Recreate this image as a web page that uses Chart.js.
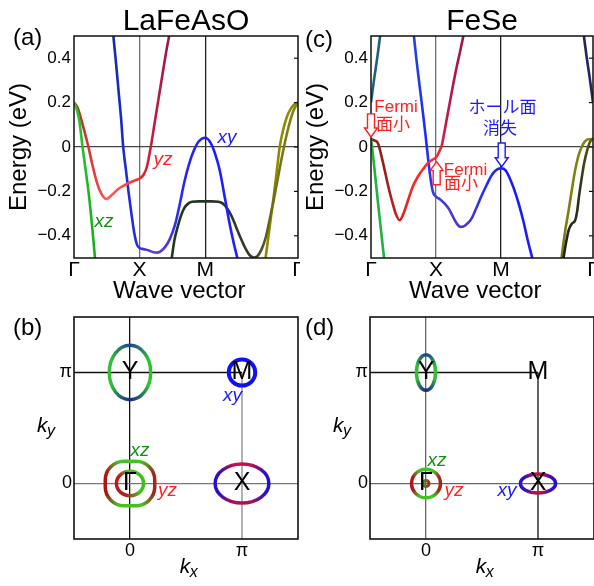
<!DOCTYPE html>
<html>
<head>
<meta charset="utf-8">
<script src="https://cdn.jsdelivr.net/npm/chart.js@4.4.1/dist/chart.umd.min.js"></script>
<style>
  html, body { margin: 0; padding: 0; background: #fff; }
  body { width: 594px; height: 586px; position: relative; overflow: hidden; }
  canvas { position: absolute; }
</style>
</head>
<body>
<canvas id="bandA" width="300" height="305" style="left:0;top:0"></canvas>
<canvas id="bandC" width="297" height="305" style="left:297px;top:0"></canvas>
<canvas id="fsB" width="300" height="286" style="left:0;top:300px"></canvas>
<canvas id="fsD" width="297" height="286" style="left:297px;top:300px"></canvas>
<script>
// k path Γ-X-M-Γ : Γ=0, X=1, M=2, Γ=2+√2
const kTicks = [0, 1, 2, 3.414];
const kLabels = ['Γ', 'X', 'M', 'Γ'];
const eTicks = [-0.4, -0.2, 0, 0.2, 0.4];

// LaFeAsO bands, [k, E (eV)]
const aXz = [[0,0.2],[0.04,0.17],[0.08,0.12],[0.13,0],[0.18,-0.11],[0.23,-0.224],[0.28,-0.37],[0.32,-0.5]];
const aYz = [[0,0.2],[0.05,0.18],[0.1,0.135],[0.16,0.07],[0.22,0],[0.28,-0.08],[0.34,-0.15],[0.4,-0.2],
  [0.49,-0.234],[0.58,-0.215],[0.67,-0.19],[0.75,-0.175],[0.85,-0.16],[0.95,-0.148],[1.0,-0.142],
  [1.06,-0.125],[1.11,-0.09],[1.17,0],[1.23,0.11],[1.29,0.22],[1.35,0.33],[1.4,0.42],[1.45,0.5]];
const aXy = [[0.6,0.5],[0.64,0.38],[0.68,0.25],[0.72,0.12],[0.75,0],[0.79,-0.1],[0.83,-0.2],[0.88,-0.31],
  [0.92,-0.39],[0.96,-0.44],[1.0,-0.455],[1.06,-0.46],[1.13,-0.465],[1.2,-0.473],[1.26,-0.476],
  [1.32,-0.47],[1.39,-0.45],[1.46,-0.415],[1.54,-0.35],[1.61,-0.26],[1.68,-0.16],[1.75,-0.08],
  [1.82,-0.02],[1.9,0.025],[2.0,0.042],[2.08,0.02],[2.15,-0.03],[2.22,-0.104],[2.3,-0.23],
  [2.37,-0.344],[2.44,-0.44],[2.49,-0.5]];
const aDark = [[1.49,-0.5],[1.53,-0.42],[1.58,-0.36],[1.63,-0.31],[1.68,-0.275],[1.74,-0.255],[1.8,-0.247],
  [1.9,-0.245],[2.0,-0.245],[2.1,-0.245],[2.2,-0.247],[2.27,-0.255],[2.33,-0.275],[2.4,-0.31],
  [2.47,-0.36],[2.54,-0.41],[2.61,-0.455],[2.67,-0.485],[2.74,-0.498],[2.8,-0.49],[2.86,-0.46],
  [2.92,-0.41],[2.98,-0.33],[3.05,-0.23],[3.12,-0.12],[3.2,0],[3.27,0.09],[3.34,0.16],[3.414,0.2]];
const aOlive = [[2.92,-0.5],[2.96,-0.41],[3.0,-0.32],[3.04,-0.23],[3.09,-0.11],[3.135,0],[3.19,0.08],
  [3.25,0.14],[3.31,0.175],[3.36,0.193],[3.414,0.2]];

// FeSe bands
const cTeal = [[0,0.2],[0.05,0.31],[0.1,0.41],[0.14,0.5]];
const cXz = [[0,0.036],[0.02,-0.01],[0.05,-0.09],[0.1,-0.23],[0.15,-0.365],[0.2,-0.5]];
const cYz = [[0,0.036],[0.05,0.03],[0.11,0.015],[0.16,-0.04],[0.21,-0.104],[0.26,-0.17],[0.32,-0.24],
  [0.38,-0.3],[0.44,-0.33],[0.5,-0.3],[0.57,-0.24],[0.64,-0.18],[0.72,-0.134],[0.8,-0.1],[0.875,-0.073],
  [0.94,-0.058],[1.0,-0.047],[1.05,-0.02],[1.09,0.009],[1.13,0.07],[1.18,0.15],[1.25,0.26],[1.31,0.35],
  [1.37,0.43],[1.42,0.5]];
const cXy = [[0.66,0.5],[0.7,0.39],[0.75,0.27],[0.8,0.15],[0.84,0.05],[0.875,-0.044],[0.91,-0.13],
  [0.95,-0.2],[1.0,-0.224],[1.06,-0.235],[1.13,-0.254],[1.2,-0.28],[1.26,-0.314],[1.32,-0.345],
  [1.38,-0.36],[1.44,-0.355],[1.5,-0.34],[1.55,-0.32],[1.62,-0.275],[1.7,-0.22],[1.78,-0.17],
  [1.85,-0.13],[1.92,-0.105],[2.0,-0.096],[2.07,-0.105],[2.14,-0.145],[2.2,-0.19],[2.27,-0.254],
  [2.34,-0.33],[2.41,-0.42],[2.48,-0.5]];
const cOlive = [[2.93,-0.5],[2.98,-0.39],[3.04,-0.284],[3.09,-0.19],[3.14,-0.104],[3.19,-0.04],
  [3.24,0],[3.29,0.025],[3.34,0.035],[3.414,0.036]];
const cDark = [[2.96,-0.5],[3.0,-0.43],[3.04,-0.374],[3.09,-0.345],[3.14,-0.33],[3.17,-0.29],[3.2,-0.22],
  [3.24,-0.14],[3.28,-0.07],[3.33,-0.01],[3.37,0.024],[3.414,0.036]];
const cNavy = [[3.274,0.5],[3.314,0.41],[3.364,0.31],[3.414,0.2]];

// Fermi surfaces, k in units of π
const fsTicks = [0, 1];
const fsTickLabels = ['0', 'π'];
const bzEdgeH = [[-0.5,1],[1,1]];
const bzEdgeV = [[1,-0.5],[1,1]];
const fsPoints = [['Y',0,1],['M',1,1],['Γ',0,0],['X',1,0]];
// [name, kx, ky, half-width, half-height]
const bPockets = [['Y',0,1,0.185,0.245],['M',1,1,0.118,0.118],['Gout',0,0,0.221,0.2],
  ['Gin',0,0,0.121,0.11],['X',1,0,0.24,0.176]];
const dPockets = [['Y',0,1,0.085,0.16],['G',0,0,0.129,0.129],['g',0,0,0.027,0.027],['X',1,0,0.157,0.085]];

const FONT = '"Liberation Sans", Arial, "Noto Sans CJK JP", sans-serif';
const RED = '#ff2020', BLUE = '#1a1aff', GREEN = '#159015';

// conic colour stops, clockwise from +kx
const ringGR = [[0,'#a02818'],[0.07,'#a02818'],[0.17,'#44c222'],[0.33,'#44c222'],[0.43,'#b01414'],
  [0.57,'#b01414'],[0.67,'#44c222'],[0.83,'#44c222'],[0.93,'#a02818'],[1,'#a02818']];
const pocketStyle = {
  Y: {stops: [[0,'#30c030'],[0.1,'#30c030'],[0.25,'#1c2a8c'],[0.4,'#30c030'],[0.6,'#30c030'],[0.75,'#1c4690'],[0.9,'#30c030'],[1,'#30c030']]},
  M: {stops: [[0,'#1010f0'],[1,'#1010f0']], width: 4},
  Gout: {square: 0.85, stops: ringGR},
  Gin: {stops: [[0,'#40c020'],[0.12,'#40c020'],[0.3,'#b02020'],[0.6,'#c01818'],[0.72,'#40c020'],[1,'#40c020']]},
  G: {stops: ringGR},
  g: {stops: [[0,'#b02020'],[0.5,'#40a020'],[1,'#b02020']], width: 3},
  X: {stops: [[0,'#2010d0'],[0.06,'#2a10c8'],[0.18,'#b01050'],[0.32,'#b01050'],[0.44,'#2a10c8'],[0.56,'#2a10c8'],
    [0.68,'#c01048'],[0.82,'#c01048'],[0.94,'#2a10c8'],[1,'#2010d0']]}
};

function kGradient(stops) {
  return (ctx) => {
    const chart = ctx.chart, x = chart.scales.x;
    if (!chart.chartArea || !x) return stops[0][1];
    const k0 = stops[0][0], k1 = stops[stops.length - 1][0];
    const g = chart.ctx.createLinearGradient(x.getPixelForValue(k0), 0, x.getPixelForValue(k1), 0);
    stops.forEach(([k, c]) => g.addColorStop((k - k0) / (k1 - k0), c));
    return g;
  };
}

function band(points, color) {
  return {
    data: points.map(([k, e]) => ({x: k, y: e})),
    showLine: true, pointRadius: 0, borderWidth: 2.6, clip: 0,
    cubicInterpolationMode: 'monotone',
    borderColor: typeof color === 'string' ? color : kGradient(color)
  };
}

function edge(points, color) {
  return {data: points.map(([x, y]) => ({x, y})), showLine: true, pointRadius: 0, borderWidth: 1.3, borderColor: color};
}

function drawArrow(ctx, x, y0, y1, color) {
  const d = y1 > y0 ? 1 : -1, hw = 3.5, hh = 6.5, hl = 9;
  ctx.beginPath();
  ctx.moveTo(x - hw, y0);
  ctx.lineTo(x - hw, y1 - d * hl);
  ctx.lineTo(x - hh, y1 - d * hl);
  ctx.lineTo(x, y1);
  ctx.lineTo(x + hh, y1 - d * hl);
  ctx.lineTo(x + hw, y1 - d * hl);
  ctx.lineTo(x + hw, y0);
  ctx.closePath();
  ctx.fillStyle = '#fff';
  ctx.fill();
  ctx.lineWidth = 1.4;
  ctx.strokeStyle = color;
  ctx.stroke();
}

function drawPocket(ctx, chart, p) {
  const {x, y} = chart.scales;
  const [name, kx, ky, rx, ry] = p;
  const st = pocketStyle[name];
  const cx = x.getPixelForValue(kx), cy = y.getPixelForValue(ky);
  const w = Math.abs(x.getPixelForValue(kx + rx) - cx);
  const h = Math.abs(y.getPixelForValue(ky + ry) - cy);
  const g = ctx.createConicGradient(0, cx, cy);
  st.stops.forEach(([t, c]) => g.addColorStop(t, c));
  ctx.beginPath();
  if (st.square) ctx.roundRect(cx - w, cy - h, 2 * w, 2 * h, Math.min(w, h) * st.square);
  else ctx.ellipse(cx, cy, w, h, 0, 0, 2 * Math.PI);
  ctx.strokeStyle = g;
  ctx.lineWidth = st.width || 3.5;
  ctx.stroke();
}

function drawSub(ctx, base, sub, x0, baseline, centered) {
  ctx.textAlign = 'left';
  ctx.textBaseline = 'alphabetic';
  ctx.font = 'italic 21px ' + FONT;
  const w1 = ctx.measureText(base).width;
  ctx.font = 'italic 16px ' + FONT;
  const w2 = ctx.measureText(sub).width;
  if (centered) x0 -= (w1 + w2) / 2;
  ctx.font = 'italic 21px ' + FONT;
  ctx.fillText(base, x0, baseline);
  ctx.font = 'italic 16px ' + FONT;
  ctx.fillText(sub, x0 + w1 - 0.5, baseline + 4);
}

const decor = {
  id: 'decor',
  afterDatasetsDraw(chart, args, opts) {
    const ctx = chart.ctx;
    const {left, right, top, bottom} = chart.chartArea;
    const {x, y} = chart.scales;
    ctx.save();
    (opts.pockets || []).forEach(p => drawPocket(ctx, chart, p));
    ctx.lineWidth = opts.frameWidth || 1.5;
    ctx.strokeStyle = '#111';
    ctx.strokeRect(left, top, right - left, bottom - top);
    if (opts.rightTicks) {
      ctx.lineWidth = 1.2;
      opts.rightTicks.forEach(v => {
        const py = y.getPixelForValue(v);
        ctx.beginPath(); ctx.moveTo(right - 4, py); ctx.lineTo(right, py); ctx.stroke();
      });
    }
    (opts.arrows || []).forEach(a =>
      drawArrow(ctx, x.getPixelForValue(a.k), y.getPixelForValue(a.from), y.getPixelForValue(a.to), a.color));
    (opts.notes || []).forEach(n => {
      ctx.font = (n.italic ? 'italic ' : '') + (n.size || 17) + 'px ' + FONT;
      ctx.fillStyle = n.color || '#000';
      ctx.textAlign = 'center';
      ctx.textBaseline = 'middle';
      ctx.fillText(n.text, x.getPixelForValue(n.at[0]), y.getPixelForValue(n.at[1]));
    });
    if (opts.corner) {
      ctx.font = '24px ' + FONT;
      ctx.fillStyle = '#000';
      ctx.textAlign = 'left';
      ctx.textBaseline = 'middle';
      ctx.fillText(opts.corner[0], opts.corner[1], opts.corner[2]);
    }
    if (opts.kTitles) {
      ctx.fillStyle = '#000';
      drawSub(ctx, 'k', 'x', (left + right) / 2 + 3, bottom + 34, true);
      drawSub(ctx, 'k', 'y', left - 37, (top + bottom) / 2 + 4, false);
    }
    ctx.restore();
  }
};

const fmtE = v => v === 0 ? '0' : (v < 0 ? '\u2212' : '') + Math.abs(v).toFixed(1);

function bandChart(id, title, datasets, rightPad, xLine, decorOpts) {
  return new Chart(document.getElementById(id), {
    type: 'scatter',
    data: {datasets},
    plugins: [decor],
    options: {
      responsive: false, animation: false, events: [],
      layout: {padding: {left: 0, right: rightPad, top: 0, bottom: 0}},
      plugins: {
        legend: {display: false},
        tooltip: {enabled: false},
        title: {display: true, text: title, fullSize: false, color: '#000',
          font: {size: 30, weight: 'normal', lineHeight: 1}, padding: {top: 7, bottom: -1}},
        decor: decorOpts
      },
      scales: {
        x: {
          type: 'linear', min: 0, max: 3.414,
          afterBuildTicks: s => { s.ticks = kTicks.map(v => ({value: v})); },
          afterFit: s => { s.height = 47; s.paddingLeft = 0; s.paddingRight = 0; },
          ticks: {callback: (v, i) => kLabels[i], font: {size: 21}, padding: 0, autoSkip: false, maxRotation: 0, color: '#000'},
          grid: {drawTicks: false, lineWidth: 1.3,
            color: c => c.tick && c.tick.value === 1 ? xLine[0] : (c.tick && c.tick.value === 2 ? xLine[1] : 'rgba(0,0,0,0)')},
          border: {display: false},
          title: {display: true, text: 'Wave vector  ', color: '#000', font: {size: 24, lineHeight: 1}, padding: {top: 0, bottom: 1.5}}
        },
        y: {
          min: -0.5, max: 0.5,
          afterBuildTicks: s => { s.ticks = eTicks.map(v => ({value: v})); },
          afterFit: s => { s.width = 74; },
          ticks: {callback: v => fmtE(v), font: {size: 17}, padding: 3, color: '#000'},
          grid: {drawTicks: false, lineWidth: 1.3, color: c => c.tick && c.tick.value === 0 ? '#444' : 'rgba(0,0,0,0)'},
          border: {display: false},
          title: {display: true, text: 'Energy (eV)', color: '#000', font: {size: 24, lineHeight: 1}, padding: {top: 7}}
        }
      }
    }
  });
}

function fsChart(id, datasets, yWidth, rightPad, grid0, decorOpts) {
  return new Chart(document.getElementById(id), {
    type: 'scatter',
    data: {datasets},
    plugins: [decor],
    options: {
      responsive: false, animation: false, events: [],
      layout: {padding: {left: 0, right: rightPad, top: 17, bottom: 0}},
      plugins: {legend: {display: false}, tooltip: {enabled: false}, decor: decorOpts},
      scales: {
        x: {
          type: 'linear', min: -0.5, max: 1.5,
          afterBuildTicks: s => { s.ticks = fsTicks.map(v => ({value: v})); },
          afterFit: s => { s.height = 47; s.paddingLeft = 0; s.paddingRight = 0; },
          ticks: {callback: (v, i) => fsTickLabels[i], font: {size: 18}, padding: 1, autoSkip: false, maxRotation: 0, color: '#000'},
          grid: {drawTicks: false, lineWidth: 1.3, color: c => c.tick && c.tick.value === 0 ? grid0[0] : 'rgba(0,0,0,0)'},
          border: {display: false}
        },
        y: {
          min: -0.5, max: 1.5,
          afterBuildTicks: s => { s.ticks = fsTicks.map(v => ({value: v})); },
          afterFit: s => { s.width = yWidth; s.paddingTop = 0; s.paddingBottom = 0; },
          ticks: {callback: (v, i) => fsTickLabels[i], font: {size: 18}, padding: 2, color: '#000'},
          grid: {drawTicks: false, lineWidth: 1.3, color: c => c.tick && c.tick.value === 0 ? grid0[1] : 'rgba(0,0,0,0)'},
          border: {display: false}
        }
      }
    }
  });
}

const pointNotes = fsPoints.map(([t, kx, ky]) => ({text: t, at: [kx, ky], size: 25}));

bandChart('bandA', 'LaFeAsO', [
  band(aXz, [[0,'#30c830'],[0.32,'#18b018']]),
  band(aYz, [[0,'#b52828'],[0.3,'#e03a3a'],[0.5,'#ff5a5a'],[0.8,'#ff4848'],[1.0,'#f02a2a'],[1.15,'#c81e3c'],[1.45,'#a0144a']]),
  band(aXy, [[0.6,'#1a2aa8'],[0.75,'#1c28d0'],[0.95,'#2a2ae0'],[1.2,'#6040d8'],[1.4,'#5038e0'],[1.6,'#2a2af0'],[2.0,'#1e1eff'],[2.49,'#1e1eff']]),
  band(aDark, [[1.49,'#1c3a1c'],[2.0,'#243424'],[2.74,'#3a3a28'],[3.0,'#6a6a18'],[3.414,'#8a8a10']]),
  band(aOlive, '#8c8c00')
], 2, ['#707070', '#202020'], {
  rightTicks: eTicks,
  corner: ['(a)', 13, 38],
  notes: [
    {text: 'yz', at: [1.355, -0.059], color: RED, italic: true, size: 19},
    {text: 'xy', at: [2.33, 0.043], color: BLUE, italic: true, size: 19},
    {text: 'xz', at: [0.457, -0.336], color: GREEN, italic: true, size: 19}
  ]
});

bandChart('bandC', 'FeSe', [
  band(cTeal, '#1f5f80'),
  band(cXz, '#22b040'),
  band(cYz, [[0,'#8a1c1c'],[0.25,'#a01c1c'],[0.45,'#d02020'],[0.65,'#ff2424'],[1.0,'#ff2a3a'],[1.15,'#c01a48'],[1.42,'#a0144a']]),
  band(cXy, [[0.66,'#2244dd'],[0.85,'#1a2aff'],[1.0,'#3a3ae8'],[1.38,'#5a32d0'],[1.7,'#3030f0'],[2.0,'#1a1aff'],[2.48,'#1a1aff']]),
  band(cDark, [[2.96,'#202020'],[3.2,'#303018'],[3.414,'#606010']]),
  band(cOlive, [[2.93,'#7a7a10'],[3.414,'#8a8a10']]),
  band(cNavy, '#242460')
], 1, ['#707070', '#202020'], {
  rightTicks: eTicks,
  corner: ['(c)', 8, 40],
  arrows: [
    {k: 0, from: 0.149, to: 0.045, color: RED},
    {k: 1.01, from: -0.17, to: -0.066, color: RED},
    {k: 2.01, from: 0.018, to: -0.089, color: BLUE}
  ],
  notes: [
    {text: 'Fermi', at: [0.385, 0.178], color: RED},
    {text: '面小', at: [0.34, 0.099], color: RED},
    {text: 'Fermi', at: [1.454, -0.106], color: RED},
    {text: '面小', at: [1.385, -0.167], color: RED},
    {text: 'ホール面', at: [2.023, 0.173], color: BLUE},
    {text: '消失', at: [1.985, 0.079], color: BLUE}
  ]
});

fsChart('fsB', [edge(bzEdgeH, '#111'), edge(bzEdgeV, '#888')], 74, 2, ['#111', '#777'], {
  pockets: bPockets,
  frameWidth: 1.6,
  corner: ['(b)', 13, 28],
  kTitles: true,
  notes: pointNotes.concat([
    {text: 'xy', at: [0.915, 0.793], color: BLUE, italic: true, size: 19},
    {text: 'xz', at: [0.089, 0.297], color: GREEN, italic: true, size: 19},
    {text: 'yz', at: [0.335, -0.063], color: RED, italic: true, size: 19}
  ])
});

fsChart('fsD', [edge(bzEdgeH, '#111'), edge(bzEdgeV, '#111')], 73, 0, ['#666', '#666'], {
  pockets: dPockets,
  frameWidth: 1.6,
  corner: ['(d)', 8, 28],
  kTitles: true,
  notes: pointNotes.concat([
    {text: 'xz', at: [0.098, 0.207], color: GREEN, italic: true, size: 19},
    {text: 'yz', at: [0.25, -0.063], color: RED, italic: true, size: 19},
    {text: 'xy', at: [0.723, -0.063], color: BLUE, italic: true, size: 19}
  ])
});
</script>
</body>
</html>
